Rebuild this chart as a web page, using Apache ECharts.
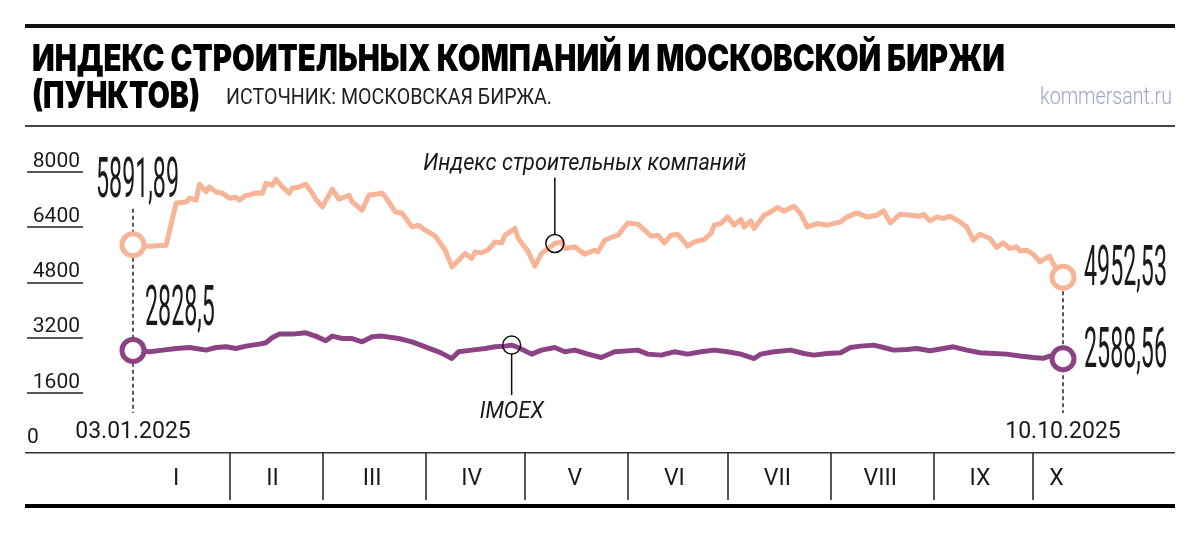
<!DOCTYPE html>
<html>
<head>
<meta charset="utf-8">
<script src="https://cdn.jsdelivr.net/npm/echarts@6/dist/echarts.min.js"></script>
<style>
  html, body { margin: 0; padding: 0; background: #fff; }
  #main { width: 1200px; height: 534px; }
</style>
</head>
<body>
<div id="main"></div>
<script>
// Data, days of 2025
var constrDays = [
  '01-03','01-08','01-13','01-16','01-19','01-20','01-22','01-23','01-25','01-26',
  '01-28','01-30','02-01','02-03','02-04','02-06','02-07','02-09','02-11','02-12',
  '02-14','02-15','02-17','02-19','02-20','02-22','02-24','02-26','02-27','03-01',
  '03-04','03-06','03-09','03-10','03-13','03-15','03-19','03-20','03-23','03-25',
  '03-28','03-30','04-01','04-04','04-07','04-09','04-11','04-13','04-15','04-16',
  '04-18','04-20','04-22','04-24','04-25','04-28','04-29','05-02','05-04','05-06',
  '05-08','05-10','05-12','05-13','05-16','05-19','05-22','05-23','05-25','05-27',
  '05-29','06-01','06-04','06-08','06-10','06-12','06-14','06-16','06-19','06-21',
  '06-24','06-26','06-27','06-29','07-01','07-03','07-05','07-06','07-08','07-09',
  '07-12','07-14','07-16','07-18','07-21','07-23','07-25','07-28','07-31','08-04',
  '08-06','08-09','08-12','08-15','08-17','08-19','08-22','08-25','08-28','08-29',
  '08-31','09-02','09-04','09-06','09-09','09-11','09-13','09-15','09-18','09-20',
  '09-22','09-24','09-26','09-27','09-29','10-01','10-03','10-06','10-07','10-10'
];
var constrValues = [
  5891.89, 5850, 5879, 7104, 7133, 7240, 7182, 7645, 7422, 7567,
  7422, 7385, 7240, 7269, 7182, 7327, 7327, 7393, 7385, 7674,
  7616, 7790, 7567, 7385, 7530, 7567, 7645, 7385, 7211, 6988,
  7501, 7211, 7327, 7133, 6892, 7327, 7385, 7278, 6843, 6806,
  6409, 6458, 6313, 6140, 5734, 5250, 5444, 5639, 5494, 5685,
  5656, 5754, 5974, 5945, 6168, 6363, 6073, 5685, 5271, 5639,
  5783, 5928, 5974, 5783, 5830, 5618, 5734, 5685, 6024, 6102,
  6168, 6525, 6487, 6140, 6168, 5945, 6168, 6197, 5850, 5974,
  6044, 6218, 6458, 6507, 6698, 6458, 6623, 6409, 6583, 6363,
  6748, 6843, 6971, 6872, 7008, 6797, 6409, 6507, 6458, 6554,
  6698, 6814, 6698, 6748, 6872, 6525, 6777, 6748, 6719, 6777,
  6583, 6698, 6652, 6719, 6554, 6409, 6024, 6197, 6073, 5812,
  5945, 5783, 5830, 5714, 5734, 5618, 5395, 5560, 5349, 4952.53
];
var imoexDays = [
  '01-03','01-08','01-12','01-16','01-20','01-22','01-25','01-28','01-31','02-03',
  '02-06','02-10','02-12','02-14','02-16','02-20','02-24','02-27','03-02','03-04',
  '03-07','03-10','03-13','03-16','03-19','03-24','03-28','04-01','04-05','04-07',
  '04-09','04-11','04-15','04-19','04-22','04-25','04-27','04-29','05-03','05-06',
  '05-10','05-13','05-16','05-20','05-24','05-28','06-04','06-07','06-11','06-15',
  '06-19','06-23','06-27','07-01','07-05','07-09','07-11','07-15','07-20','07-24',
  '07-27','07-31','08-04','08-07','08-10','08-14','08-17','08-20','08-24','08-27',
  '08-31','09-04','09-07','09-11','09-15','09-19','09-23','09-27','10-01','10-04',
  '10-06','10-10'
];
var imoexValues = [
  2828.5, 2788, 2837, 2884, 2913, 2884, 2837, 2913, 2933, 2884,
  2953, 3011, 3049, 3202, 3301, 3301, 3338, 3243, 3107, 3243,
  3173, 3173, 3078, 3222, 3243, 3173, 3078, 2933, 2788, 2692,
  2594, 2788, 2837, 2884, 2933, 2953, 2982, 2913, 2721, 2837,
  2913, 2788, 2837, 2721, 2623, 2788, 2837, 2721, 2692, 2788,
  2721, 2788, 2837, 2788, 2721, 2594, 2721, 2788, 2837, 2739,
  2692, 2739, 2759, 2913, 2953, 2982, 2913, 2837, 2855, 2884,
  2817, 2884, 2933, 2837, 2759, 2739, 2721, 2664, 2623, 2600,
  2664, 2588.56
];
var monthStarts = ['02-01','03-01','04-01','05-01','06-01','07-01','08-01','09-01','10-01'];
var monthLabelDays = ['01-16','02-14','03-16','04-15','05-16','06-15','07-16','08-16','09-15','10-08'];
var monthNames = ['I','II','III','IV','V','VI','VII','VIII','IX','X'];
var yTicks = [0, 1600, 3200, 4800, 6400, 8000];
var startDay = '01-03';
var endDay = '10-10';
var constrPointerDay = '05-10';
var imoexPointerDay = '04-27';

var orange = '#f7b496';
var purple = '#8c4383';
var ink = '#1a1a1a';
var FONT = 'Roboto, "DejaVu Sans", sans-serif';

function ts(d) { return echarts.time.parse('2025-' + d).getTime(); }
function zip(days, vals) {
  return days.map(function (d, i) { return [ts(d), vals[i]]; });
}
var constrData = zip(constrDays, constrValues);
var imoexData = zip(imoexDays, imoexValues);

var chart = echarts.init(document.getElementById('main'));

// x axes are plain value axes over timestamps, so custom tick values work
var option = {
  animation: false,
  grid: [
    { left: 133, right: 137, top: 172, bottom: 86 },
    // thin strip whose bottom edge is the month band's top line
    { left: 133, right: 137, top: 443, bottom: 81 }
  ],
  xAxis: [
    {
      gridIndex: 0, type: 'value', min: ts(startDay), max: ts(endDay),
      axisLine: { show: false }, axisTick: { show: false }, splitLine: { show: false },
      axisLabel: {
        customValues: [ts(startDay), ts(endDay)],
        inside: true, margin: 4, fontSize: 23, color: ink, fontFamily: FONT,
        alignMinLabel: 'center', alignMaxLabel: 'center', hideOverlap: false,
        formatter: function (v) { return echarts.time.format(v, '{dd}.{MM}.{yyyy}'); }
      }
    },
    {
      gridIndex: 1, type: 'value', min: ts(startDay), max: ts(endDay),
      axisLine: { show: false }, splitLine: { show: false },
      axisTick: {
        show: true, length: 47,
        customValues: monthStarts.map(ts),
        lineStyle: { color: '#222', width: 1.5 }
      },
      axisLabel: {
        customValues: monthLabelDays.map(ts),
        margin: 15, fontSize: 23, color: ink, fontFamily: FONT,
        alignMinLabel: 'center', alignMaxLabel: 'center', hideOverlap: false,
        formatter: function (v) { return monthNames[new Date(v).getMonth()]; }
      }
    }
  ],
  yAxis: [
    {
      gridIndex: 0, type: 'value', min: 0, max: 8000, interval: 1600, offset: 50,
      axisLine: { show: false }, splitLine: { show: false },
      axisTick: {
        show: true, length: 56, customValues: yTicks.slice(1),
        lineStyle: { color: '#222', width: 1.5 }
      },
      axisLabel: {
        customValues: yTicks, margin: 3, verticalAlign: 'bottom',
        formatter: function (v) { return v === 0 ? '{z|0}' : '{n|' + v + '}'; },
        rich: {
          n: { fontSize: 21, fontFamily: FONT, color: ink },
          z: { fontSize: 21, fontFamily: FONT, color: ink, width: 53, align: 'left' }
        }
      }
    },
    { gridIndex: 1, type: 'value', min: 0, max: 1, show: false }
  ],
  series: [
    {
      name: 'Индекс строительных компаний', type: 'line', data: constrData,
      symbol: 'none', lineStyle: { color: orange, width: 5, join: 'round', cap: 'round' }, z: 3
    },
    {
      name: 'IMOEX', type: 'line', data: imoexData,
      symbol: 'none', lineStyle: { color: purple, width: 5, join: 'round', cap: 'round' }, z: 3
    },
    {
      type: 'scatter', data: [constrData[0], constrData[constrData.length - 1]],
      symbolSize: 22, itemStyle: { color: '#fff', borderColor: orange, borderWidth: 5, opacity: 1 }, z: 10
    },
    {
      type: 'scatter', data: [imoexData[0], imoexData[imoexData.length - 1]],
      symbolSize: 22, itemStyle: { color: '#fff', borderColor: purple, borderWidth: 5, opacity: 1 }, z: 10
    }
  ]
};
chart.setOption(option);

// text width helper, to squeeze fonts to the condensed look
var mctx = document.createElement('canvas').getContext('2d');
function fit(text, font, width) {
  mctx.font = font;
  return width / mctx.measureText(text).width;
}
function px(day, v) { return chart.convertToPixel({ seriesIndex: 0 }, [ts(day), v]); }
function valueOf(days, vals, day) { return vals[days.indexOf(day)]; }
function txt(text, x, y, font, fill, align, sx, z) {
  return {
    type: 'text', x: x, y: y, scaleX: sx, z: z || 20,
    style: { text: text, font: font, fill: fill, align: align, textAlign: align,
      verticalAlign: 'middle', textVerticalAlign: 'middle' }
  };
}
function fmt(v) { return String(v).replace('.', ','); }

var titleFont = '900 37px Inter, Roboto, sans-serif';
var title1 = 'ИНДЕКС СТРОИТЕЛЬНЫХ КОМПАНИЙ И МОСКОВСКОЙ БИРЖИ';
var titleScale = fit(title1, titleFont, 973);
var srcFont = '400 22px Roboto, sans-serif';
var srcText = 'ИСТОЧНИК: МОСКОВСКАЯ БИРЖА.';
var brandFont = '300 23px Roboto, sans-serif';
var numFont = '400 56px Roboto, sans-serif';
var numScale = fit('5891,89', numFont, 83);
var noteFont = 'italic 400 23px Roboto, sans-serif';
var note1 = 'Индекс строительных компаний';

var s0 = px(startDay, constrValues[0]);
var s1 = px(startDay, imoexValues[0]);
var e0 = px(endDay, constrValues[constrValues.length - 1]);
var e1 = px(endDay, imoexValues[imoexValues.length - 1]);
var base = chart.convertToPixel({ yAxisIndex: 0 }, 0);
var p = px(constrPointerDay, valueOf(constrDays, constrValues, constrPointerDay));
var q = px(imoexPointerDay, valueOf(imoexDays, imoexValues, imoexPointerDay));

var dash = { stroke: '#222', lineWidth: 1.5, lineDash: [4, 3] };
var thin = { stroke: '#111', lineWidth: 1.5 };

chart.setOption({
  graphic: [
    { type: 'rect', shape: { x: 25, y: 24, width: 1150, height: 4 }, style: { fill: '#111' } },
    { type: 'rect', shape: { x: 25, y: 125, width: 1150, height: 2 }, style: { fill: '#444' } },
    { type: 'rect', shape: { x: 25, y: 452, width: 1150, height: 1.5 }, style: { fill: '#333' } },
    { type: 'rect', shape: { x: 25, y: 504, width: 1150, height: 4 }, style: { fill: '#000' } },
    txt(title1, 32, 60, titleFont, '#000', 'left', titleScale),
    txt('(ПУНКТОВ)', 32, 97, titleFont, '#000', 'left', fit('(ПУНКТОВ)', titleFont, 168)),
    txt(srcText, 226, 98, srcFont, '#222', 'left', fit(srcText, srcFont, 326)),
    txt('kommersant.ru', 1172, 98, brandFont, '#9ea6c9', 'right', fit('kommersant.ru', brandFont, 132)),
    // dashed markers at the first and last date
    { type: 'line', z: 1, shape: { x1: s0[0], y1: s0[1] - 36, x2: s0[0], y2: base - 35 }, style: dash },
    { type: 'line', z: 1, shape: { x1: e0[0], y1: e0[1] + 14, x2: e0[0], y2: base - 35 }, style: dash },
    // end values
    txt(fmt(constrValues[0]), s0[0] - 37, s0[1] - 62, numFont, ink, 'left', numScale),
    txt(fmt(imoexValues[0]), s1[0] + 12, s1[1] - 39, numFont, ink, 'left', numScale),
    txt(fmt(constrValues[constrValues.length - 1]), e0[0] + 21, e0[1] - 6, numFont, ink, 'left', numScale),
    txt(fmt(imoexValues[imoexValues.length - 1]), e1[0] + 21, e1[1] - 6, numFont, ink, 'left', numScale),
    // series notes
    { type: 'circle', z: 20, shape: { cx: p[0], cy: p[1], r: 9 }, style: { fill: 'none', stroke: '#111', lineWidth: 1.5 } },
    { type: 'line', z: 20, shape: { x1: p[0], y1: p[1] - 9, x2: p[0], y2: p[1] - 66 }, style: thin },
    txt(note1, p[0] + 30, p[1] - 79, noteFont, ink, 'center', fit(note1, noteFont, 323)),
    { type: 'circle', z: 20, shape: { cx: q[0], cy: q[1], r: 9 }, style: { fill: 'none', stroke: '#111', lineWidth: 1.5 } },
    { type: 'line', z: 20, shape: { x1: q[0], y1: q[1] + 9, x2: q[0], y2: q[1] + 50 }, style: thin },
    txt('IMOEX', q[0], q[1] + 67, noteFont, ink, 'center', fit('IMOEX', noteFont, 64))
  ]
});
</script>
</body>
</html>
